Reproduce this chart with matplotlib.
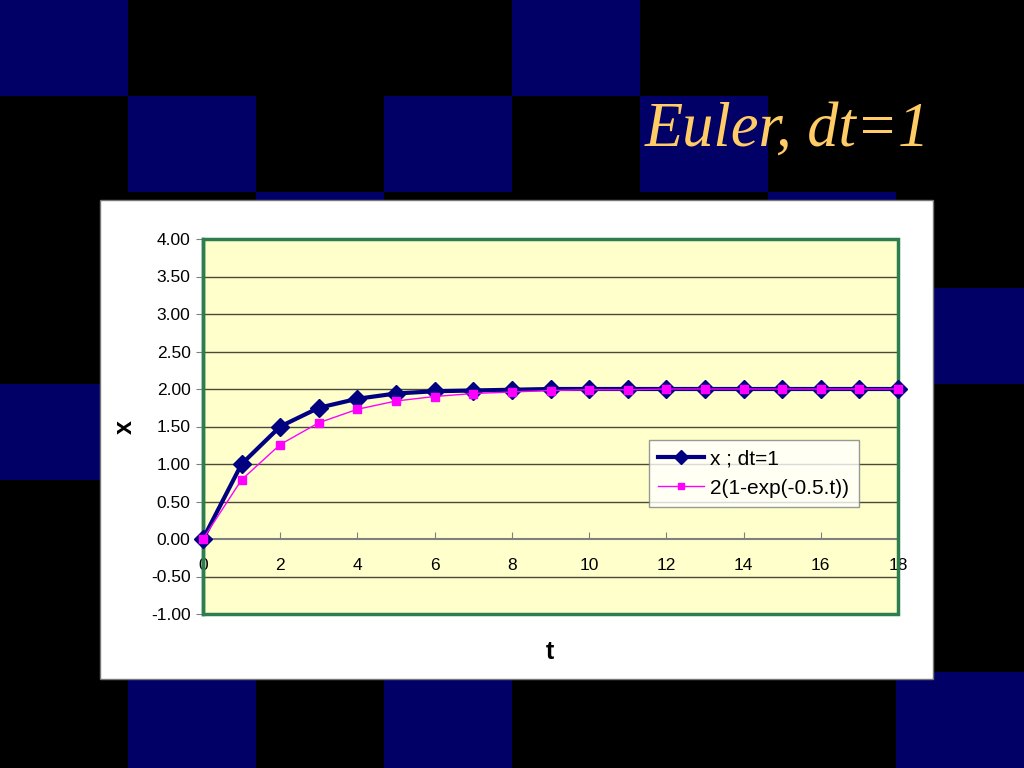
import matplotlib
matplotlib.use("Agg")
import matplotlib.pyplot as plt
from matplotlib.patches import Rectangle

# ---- data ----
t_values = list(range(0, 19))
euler_x = [0.00, 1.00, 1.50, 1.75, 1.87, 1.94, 1.97, 1.98, 1.99, 2.00,
           2.00, 2.00, 2.00, 2.00, 2.00, 2.00, 2.00, 2.00, 2.00]
exact_x = [0.00, 0.79, 1.26, 1.55, 1.73, 1.84, 1.90, 1.94, 1.96, 1.98,
           1.99, 1.99, 2.00, 2.00, 2.00, 2.00, 2.00, 2.00, 2.00]
y_ticks = [-1.0, -0.5, 0.0, 0.5, 1.0, 1.5, 2.0, 2.5, 3.0, 3.5, 4.0]
x_ticks = [0, 2, 4, 6, 8, 10, 12, 14, 16, 18]
euler_label = "x ; dt=1"
exact_label = "2(1-exp(-0.5.t))"
title_text = "Euler, dt=1"

W, H = 1024, 768
fig = plt.figure(figsize=(W / 100, H / 100), dpi=100)
fig.patch.set_facecolor("black")

# checkerboard background (blue cells: (row, col))
blue = "#000066"
blue_cells = [(0, 0), (0, 4), (1, 1), (1, 3), (1, 5), (2, 2), (2, 6),
              (3, 3), (3, 7), (4, 0), (7, 1), (7, 3), (7, 7)]
cw, ch = 128, 96
for r, c in blue_cells:
    fig.patches.append(Rectangle((c * cw / W, 1 - (r + 1) * ch / H), cw / W, ch / H,
                                 transform=fig.transFigure, facecolor=blue,
                                 edgecolor="none", zorder=-2))

# white chart box
fig.patches.append(Rectangle((100 / W, 1 - 679 / H), 833 / W, 479 / H,
                             transform=fig.transFigure, facecolor="white",
                             edgecolor="#777777", linewidth=1, zorder=-1))

fig.text(787 / W, 1 - 131 / H, title_text, color="#FFCC66", fontsize=45,
         family="Liberation Serif", style="italic", ha="center", va="center")

ax = fig.add_axes([203 / W, 1 - 614 / H, 695 / W, 375 / H])
ax.set_zorder(2)
ax.set_facecolor("#FFFFCC")
ax.set_xlim(0, 18)
ax.set_ylim(-1, 4)

for y in y_ticks:
    if y != 0:
        ax.axhline(y, color="#4a4a3a", linewidth=1.0, zorder=1)

ax.plot(t_values, euler_x, color="#000080", linewidth=3, marker="D",
        markersize=9, markerfacecolor="#000080", markeredgecolor="#000080",
        label=euler_label, zorder=4, clip_on=False)
ax.plot(t_values, exact_x, color="#FF00FF", linewidth=1, marker="s",
        markersize=6, markerfacecolor="#FF00FF", markeredgecolor="#FF00FF",
        label=exact_label, zorder=5, clip_on=False)

for s in ["top", "right"]:
    ax.spines[s].set_visible(False)
ax.spines["left"].set_color("#2E7D4F")
ax.spines["left"].set_linewidth(2.5)
ax.spines["bottom"].set_position(("data", 0))
ax.spines["bottom"].set_color("#808080")
ax.spines["bottom"].set_linewidth(1.5)
ax.add_patch(Rectangle((0, 0), 1, 1, transform=ax.transAxes, fill=False,
                       edgecolor="#2E7D4F", linewidth=2.5, clip_on=False, zorder=3))

ax.set_yticks(y_ticks)
ax.set_yticklabels([f"{v:.2f}" for v in y_ticks])
ax.set_xticks(x_ticks)
ax.set_xticklabels([str(v) for v in x_ticks])
ax.tick_params(axis="y", direction="out", length=5, color="#808080",
               labelsize=12.5, pad=4)
ax.tick_params(axis="x", direction="in", length=5, color="#808080",
               labelsize=12.5, pad=14)
for lab in ax.get_xticklabels() + ax.get_yticklabels():
    lab.set_family("Liberation Sans")

fig.text(125 / W, 1 - 427 / H, "x", fontsize=18, fontweight="bold",
         family="Liberation Sans", rotation=90, ha="center", va="center")
fig.text(550 / W, 1 - 652 / H, "t", fontsize=18, fontweight="bold",
         family="Liberation Sans", ha="center", va="center")

leg = ax.legend(loc="upper left", bbox_to_anchor=(649 / W, 1 - 440 / H),
                bbox_transform=fig.transFigure, frameon=True, fancybox=False,
                prop={"family": "Liberation Sans", "size": 15},
                handlelength=2.2, borderpad=0.45, labelspacing=0.5,
                handletextpad=0.3, borderaxespad=0, markerscale=0.8)
leg.get_frame().set_edgecolor("#808080")
leg.get_frame().set_linewidth(1)
leg.set_zorder(10)

fig.savefig("out.png", dpi=100, facecolor="black")
